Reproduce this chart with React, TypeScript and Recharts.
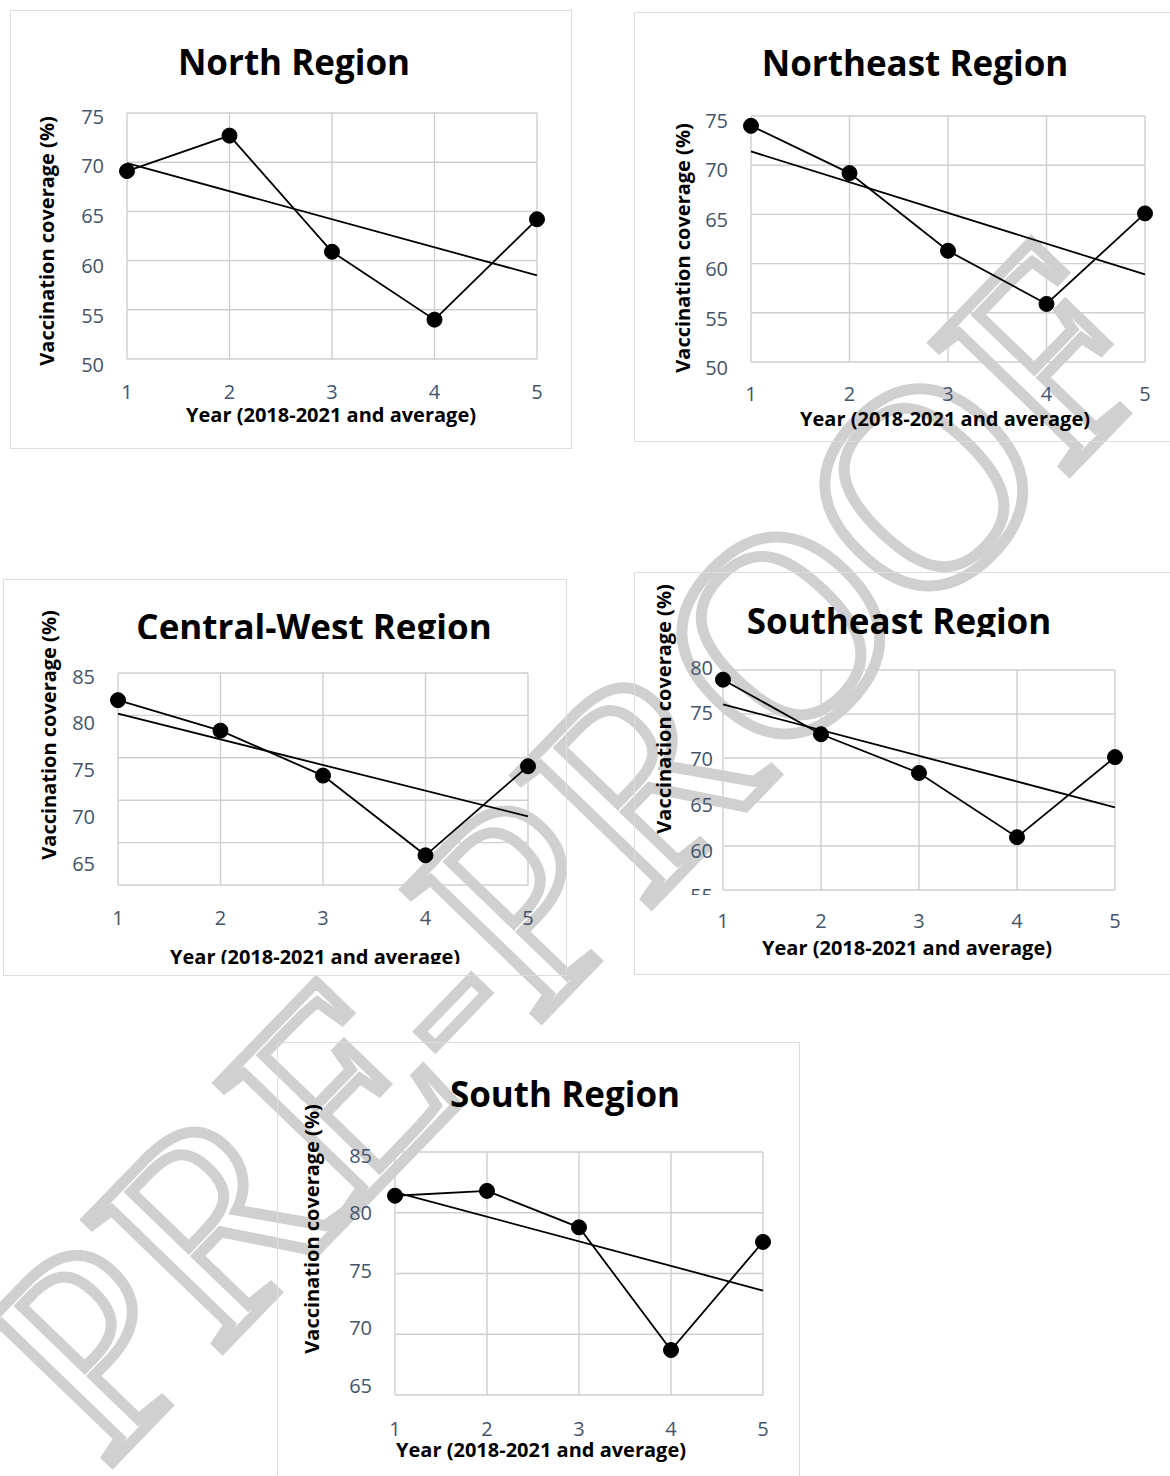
import React from "react";
import { LineChart, Line, XAxis, YAxis, CartesianGrid } from "recharts";

// x values: 2018-2021 and the average
const years = [1, 2, 3, 4, 5];

// coverage (%), trend = linear trendline value at year 1 and year 5
const northCoverage = [69.1, 72.7, 60.9, 54.0, 64.2];
const northTrend = [69.9, 58.5];
const northTicks = [50, 55, 60, 65, 70, 75];

const northeastCoverage = [74.0, 69.2, 61.3, 55.9, 65.1];
const northeastTrend = [71.4, 58.9];
const northeastTicks = [50, 55, 60, 65, 70, 75];

const centralWestCoverage = [81.8, 78.2, 72.9, 63.5, 74.0];
const centralWestTrend = [80.2, 68.1];
const centralWestTicks = [60, 65, 70, 75, 80, 85];

const southeastCoverage = [78.9, 72.7, 68.3, 61.0, 70.1];
const southeastTrend = [76.1, 64.4];
const southeastTicks = [55, 60, 65, 70, 75, 80];

const southCoverage = [81.4, 81.8, 78.8, 68.7, 77.6];
const southTrend = [81.7, 73.6];
const southTicks = [65, 70, 75, 80, 85];

const yTitle = "Vaccination coverage (%)";
const xTitle = "Year (2018-2021 and average)";
const watermark = "PRE-PROOF";

const buildRows = (coverage: number[], trend: number[]) =>
  years.map((year, i) => ({
    year,
    coverage: coverage[i],
    trend: i === 0 ? trend[0] : i === years.length - 1 ? trend[1] : null,
  }));

const FONT = "'Open Sans', sans-serif";
const TICK_COLOR = "#44546a";
const Y_AXIS_W = 40;
const X_AXIS_H = 20;

type Panel = {
  id: string;
  title: string;
  coverage: number[];
  trend: number[];
  ticks: number[];
  frame: { x: number; y: number; w: number; h: number };
  plot: { left: number; top: number; right: number; bottom: number };
  titlePos: { cx: number; cy: number; clip?: number };
  yLabel: { cx: number; cy: number };
  xLabel: { cx: number; cy: number; clip?: number };
  xTickOffset: number;
  tickGap: number;
  labelShift: number;
  labelStretch: number;
  hiddenTicks?: number[];
  clipTick?: { value: number; below: number };
};

const panels: Panel[] = [
  {
    id: "north",
    title: "North Region",
    coverage: northCoverage,
    trend: northTrend,
    ticks: northTicks,
    frame: { x: 10, y: 10, w: 562, h: 439 },
    plot: { left: 127, top: 113, right: 537, bottom: 359 },
    titlePos: { cx: 294, cy: 61 },
    yLabel: { cx: 47, cy: 241 },
    xLabel: { cx: 331, cy: 415 },
    xTickOffset: 32,
    tickGap: 23,
    labelShift: 3,
    labelStretch: 0.012,
  },
  {
    id: "northeast",
    title: "Northeast Region",
    coverage: northeastCoverage,
    trend: northeastTrend,
    ticks: northeastTicks,
    frame: { x: 634, y: 12, w: 560, h: 430 },
    plot: { left: 751, top: 116, right: 1145, bottom: 362 },
    titlePos: { cx: 915, cy: 62 },
    yLabel: { cx: 683, cy: 248 },
    xLabel: { cx: 945, cy: 419 },
    xTickOffset: 31,
    tickGap: 23,
    labelShift: 4,
    labelStretch: 0.008,
  },
  {
    id: "centralwest",
    title: "Central-West Region",
    coverage: centralWestCoverage,
    trend: centralWestTrend,
    ticks: centralWestTicks,
    frame: { x: 3, y: 579, w: 564, h: 397 },
    plot: { left: 118, top: 673, right: 528, bottom: 885 },
    titlePos: { cx: 314, cy: 626, clip: 639 },
    yLabel: { cx: 49, cy: 735 },
    xLabel: { cx: 315, cy: 957, clip: 964 },
    xTickOffset: 32,
    tickGap: 23,
    labelShift: 3,
    labelStretch: 0.106,
    hiddenTicks: [60],
  },
  {
    id: "southeast",
    title: "Southeast Region",
    coverage: southeastCoverage,
    trend: southeastTrend,
    ticks: southeastTicks,
    frame: { x: 634, y: 572, w: 560, h: 403 },
    plot: { left: 723, top: 670, right: 1115, bottom: 890 },
    titlePos: { cx: 899, cy: 620, clip: 637 },
    yLabel: { cx: 664, cy: 709 },
    xLabel: { cx: 907, cy: 948 },
    xTickOffset: 30,
    tickGap: 10,
    labelShift: -3,
    labelStretch: 0.04,
    clipTick: { value: 55, below: 895 },
  },
  {
    id: "south",
    title: "South Region",
    coverage: southCoverage,
    trend: southTrend,
    ticks: southTicks,
    frame: { x: 277, y: 1042, w: 523, h: 460 },
    plot: { left: 395, top: 1152, right: 763, bottom: 1395 },
    titlePos: { cx: 565, cy: 1093 },
    yLabel: { cx: 312, cy: 1229 },
    xLabel: { cx: 541, cy: 1450 },
    xTickOffset: 33,
    tickGap: 23,
    labelShift: 3,
    labelStretch: -0.053,
  },
];

function Caption({ text, cx, cy, size, rotate, clip }: any) {
  const el = (
    <div
      style={{
        position: "absolute",
        left: cx,
        top: cy,
        transform: `translate(-50%, -50%)${rotate ? " rotate(-90deg)" : ""}`,
        fontFamily: FONT,
        fontWeight: 700,
        fontSize: size,
        lineHeight: 1,
        whiteSpace: "nowrap",
        color: "#000",
      }}
    >
      {text}
    </div>
  );
  if (!clip) return el;
  return (
    <div style={{ position: "absolute", left: 0, top: 0, width: 1170, height: clip, overflow: "hidden" }}>
      {el}
    </div>
  );
}

function RegionChart({ p }: { p: Panel }) {
  const data = buildRows(p.coverage, p.trend);
  const margin = {
    top: p.plot.top - p.frame.y,
    left: p.plot.left - p.frame.x - Y_AXIS_W,
    right: p.frame.x + p.frame.w - p.plot.right,
    bottom: p.frame.y + p.frame.h - p.plot.bottom - X_AXIS_H,
  };
  const plotTopLocal = p.plot.top - p.frame.y;

  const yTick = (props: any) => {
    const v = props.payload.value;
    if (p.hiddenTicks && p.hiddenTicks.includes(v)) return <g />;
    const dy = p.labelShift + (props.y - plotTopLocal) * p.labelStretch;
    const label = (
      <text
        x={props.x - p.tickGap}
        y={props.y + dy}
        textAnchor="end"
        dominantBaseline="central"
        fontFamily={FONT}
        fontSize={20}
        fill={TICK_COLOR}
      >
        {v}
      </text>
    );
    if (p.clipTick && p.clipTick.value === v) {
      const cid = `tickclip-${p.id}`;
      return (
        <g>
          <defs>
            <clipPath id={cid}>
              <rect x={0} y={0} width={p.frame.w} height={p.clipTick.below - p.frame.y} />
            </clipPath>
          </defs>
          <g clipPath={`url(#${cid})`}>{label}</g>
        </g>
      );
    }
    return label;
  };

  const xTick = (props: any) => (
    <text
      x={props.x}
      y={props.y + p.xTickOffset}
      textAnchor="middle"
      dominantBaseline="central"
      fontFamily={FONT}
      fontSize={20}
      fill={TICK_COLOR}
    >
      {props.payload.value}
    </text>
  );

  return (
    <>
      <div
        style={{
          position: "absolute",
          left: p.frame.x,
          top: p.frame.y,
          width: p.frame.w,
          height: p.frame.h,
          border: "1.4px solid #d9dde4",
          boxSizing: "border-box",
        }}
      />
      <div style={{ position: "absolute", left: p.frame.x, top: p.frame.y }}>
        <LineChart width={p.frame.w} height={p.frame.h} data={data} margin={margin}>
          <CartesianGrid stroke="#cfcfcf" strokeWidth={1.4} />
          <XAxis
            dataKey="year"
            type="number"
            domain={[1, 5]}
            ticks={years}
            interval={0}
            axisLine={false}
            tickLine={false}
            tickSize={0}
            tickMargin={0}
            height={X_AXIS_H}
            tick={xTick}
          />
          <YAxis
            type="number"
            domain={[p.ticks[0], p.ticks[p.ticks.length - 1]]}
            ticks={p.ticks}
            interval={0}
            allowDataOverflow
            axisLine={false}
            tickLine={false}
            tickSize={0}
            tickMargin={0}
            width={Y_AXIS_W}
            tick={yTick}
          />
          <Line
            type="linear"
            dataKey="trend"
            connectNulls
            stroke="#000"
            strokeWidth={1.8}
            dot={false}
            activeDot={false}
            isAnimationActive={false}
          />
          <Line
            type="linear"
            dataKey="coverage"
            stroke="#000"
            strokeWidth={1.8}
            dot={{ r: 7.5, fill: "#000", stroke: "#000", strokeWidth: 1 }}
            activeDot={false}
            isAnimationActive={false}
          />
        </LineChart>
      </div>
      <Caption text={p.title} cx={p.titlePos.cx} cy={p.titlePos.cy} size={35} clip={p.titlePos.clip} />
      <Caption text={yTitle} cx={p.yLabel.cx} cy={p.yLabel.cy} size={20} rotate />
      <Caption text={xTitle} cx={p.xLabel.cx} cy={p.xLabel.cy} size={20} clip={p.xLabel.clip} />
    </>
  );
}

export default function App() {
  return (
    <div style={{ position: "relative", width: 1170, height: 1476, overflow: "hidden", background: "#fff" }}>
      <style>{`html, body { margin: 0; padding: 0; overflow: hidden; }`}</style>
      <svg width={1170} height={1476} style={{ position: "absolute", left: 0, top: 0 }}>
        <text
          transform="translate(570 850) rotate(-46)"
          textAnchor="middle"
          dominantBaseline="central"
          fontFamily="'Liberation Serif', serif"
          fontSize={285}
          fill="none"
          stroke="#d0d0d0"
          strokeWidth={11}
        >
          {watermark}
        </text>
      </svg>
      {panels.map((p) => (
        <RegionChart key={p.id} p={p} />
      ))}
    </div>
  );
}
